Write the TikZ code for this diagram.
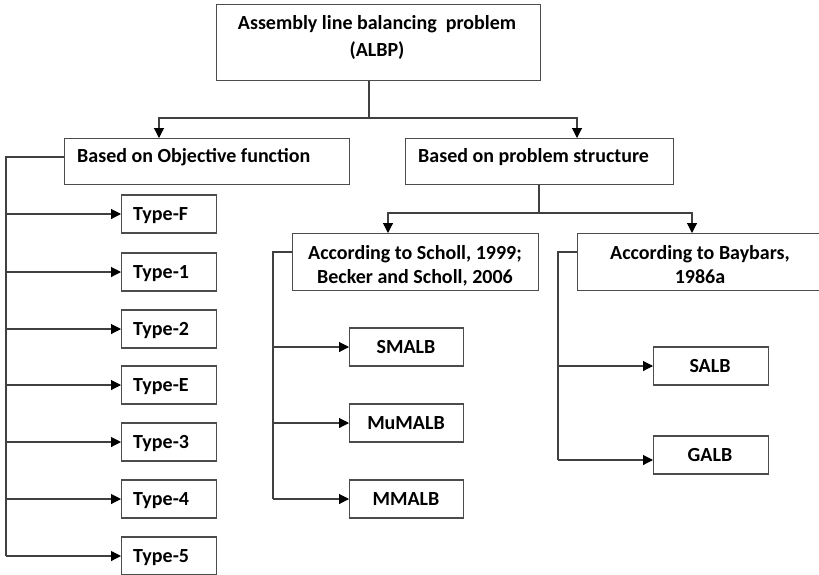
\documentclass[tikz,border=0pt]{standalone}
\usepackage{fontspec}
\setmainfont{Carlito}
\usetikzlibrary{arrows.meta}
\begin{document}
\begin{tikzpicture}[x=1pt,y=-1pt,
  box/.style={draw=black!70, line width=1.1pt, inner sep=0pt, anchor=north west},
  txt/.style={inner sep=0pt, anchor=base, font=\fontsize{20}{24}\selectfont\bfseries},
  txtl/.style={txt, anchor=base west},
  conn/.style={draw=black!75, line width=1.1pt},
  arr/.style={conn, -{Triangle[length=10pt,width=10pt,color=black]}}]
\clip (0,0) rectangle (819,574);
% top
\node[box, minimum width=324pt, minimum height=76pt] (top) at (216,4) {};
\node[txt] (top-l1) at (377,29) {Assembly line balancing\ \ problem};
\node[txt] (top-l2) at (377,56) {(ALBP)};
% level 2
\node[box, minimum width=285pt, minimum height=46pt] (obj) at (64,138) {};
\node[txtl] (obj-l) at (77,162) {Based on Objective function};
\node[box, minimum width=268pt, minimum height=46pt] (str) at (405,138) {};
\node[txtl] (str-l) at (418,162) {Based on problem structure};
\coordinate (j1) at (369,118);
\coordinate (a1) at (159,138);
\coordinate (a2) at (577,138);
\draw[conn] (top.south -| j1) -- (j1);
\draw[arr] (j1) -| (a1);
\draw[arr] (j1) -| (a2);
% left spine and types
\coordinate (lsp) at (6,157);
\foreach \n/\t/\y in {tF/Type-F/214,t1/Type-1/272,t2/Type-2/329,tE/Type-E/385,t3/Type-3/442,t4/Type-4/499,t5/Type-5/556}{
  \node[box, minimum width=95pt, minimum height=38pt, anchor=west] (\n) at (121,\y) {};
  \node[txtl] (\n-l) at (133,\y+6.5) {\t};
  \draw[arr] (lsp |- \n.west) -- (\n.west);
}
\draw[conn] (obj.west |- lsp) -- (lsp) -- (lsp |- t5.west);
% level 3
\node[box, minimum width=246pt, minimum height=57pt] (sch) at (292,233) {};
\node[txt] (sch-l1) at (415,259) {According to Scholl, 1999;};
\node[txt] (sch-l2) at (415,283) {Becker and\ Scholl, 2006};
\node[box, minimum width=246pt, minimum height=57pt] (bay) at (577,233) {};
\node[txt] (bay-l1) at (700,259) {According to Baybars,};
\node[txt] (bay-l2) at (700,283) {1986a};
\coordinate (j2) at (539,213);
\coordinate (a3) at (388,233);
\coordinate (a4) at (692,233);
\draw[conn] (str.south -| j2) -- (j2);
\draw[arr] (j2) -| (a3);
\draw[arr] (j2) -| (a4);
% Scholl children
\coordinate (ssp) at (273,252);
\foreach \n/\t/\y in {sm/SMALB/347,mu/MuMALB/423,mm/MMALB/499}{
  \node[box, minimum width=114pt, minimum height=38pt, anchor=west] (\n) at (349,\y) {};
  \node[txt] (\n-l) at (406,\y+6.5) {\t};
  \draw[arr] (ssp |- \n.west) -- (\n.west);
}
\draw[conn] (sch.west |- ssp) -- (ssp) -- (ssp |- mm.west);
% Baybars children
\coordinate (bsp) at (558,252);
\node[box, minimum width=115pt, minimum height=38pt, anchor=west] (sa) at (653,366) {};
\node[txt] (sa-l) at (710,372.5) {SALB};
\node[box, minimum width=115pt, minimum height=38pt, anchor=west] (ga) at (653,455) {};
\node[txt] (ga-l) at (710,461.5) {GALB};
\coordinate (gaa) at (653,460);
\draw[arr] (bsp |- sa.west) -- (sa.west);
\draw[arr] (bsp |- gaa) -- (gaa);
\draw[conn] (bay.west |- bsp) -- (bsp) -- (bsp |- gaa);
\end{tikzpicture}
\end{document}
